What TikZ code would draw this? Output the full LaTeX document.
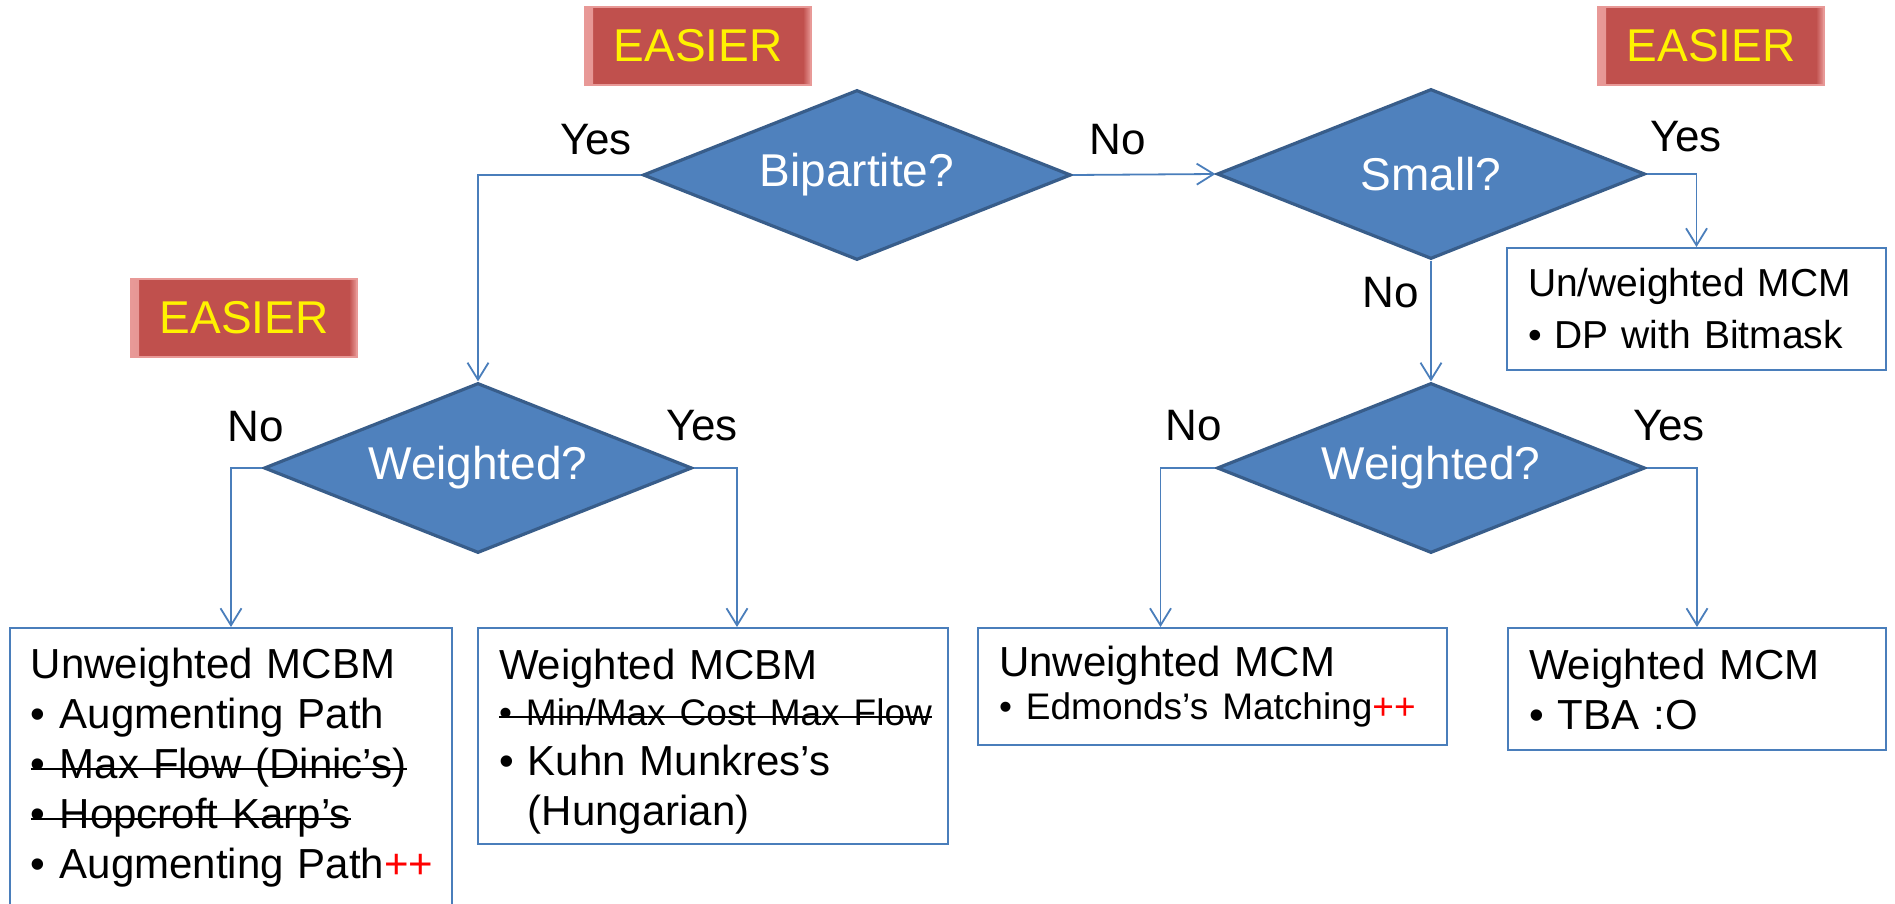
\documentclass[tikz,border=0pt]{standalone}
\usepackage{fontspec}
\setmainfont{Liberation Sans}
\usetikzlibrary{shapes.geometric,arrows.meta}

\definecolor{flowblue}{HTML}{4F81BD}
\definecolor{flowedge}{HTML}{385D8A}
\definecolor{linkblue}{HTML}{4A7EBB}
\definecolor{easyred}{HTML}{C0504D}
\definecolor{easyedge}{HTML}{E89997}

\newcommand{\struck}[1]{\leavevmode\setbox0=\hbox{#1}\rlap{\rule[0.2em]{\wd0}{1pt}}\box0}
\newcommand{\plusplus}{\textcolor{red}{++}}
\newcommand{\smalltxt}{\fontsize{18.5pt}{25pt}\selectfont}

\tikzset{
  decision/.style={diamond, shape aspect=2.5, fill=flowblue, draw=flowedge, line width=1.6pt,
    minimum width=214pt, minimum height=85pt, inner sep=0pt, text=white,
    font=\fontsize{23pt}{27pt}\selectfont},
  result/.style={draw=linkblue, line width=1pt, anchor=north west, align=left,
    inner xsep=10.5pt, inner ysep=10pt,
    font=\fontsize{21pt}{25pt}\selectfont},
  answer/.style={anchor=base, font=\fontsize{22pt}{26pt}\selectfont},
  easier/.style={fill=easyred, draw=easyedge, line width=0.8pt, text=yellow,
    minimum width=113pt, minimum height=39pt, font=\fontsize{23pt}{27pt}\selectfont,
    path picture={
      \fill[left color=easyedge, right color=easyred] (path picture bounding box.south west) rectangle ([xshift=4pt]path picture bounding box.north west);
      \fill[left color=easyred, right color=easyedge] ([xshift=-4pt]path picture bounding box.south east) rectangle (path picture bounding box.north east);
    }},
  link/.style={draw=linkblue, line width=0.9pt, -{Straight Barb[length=8.5pt,width=10.5pt]}},
}

\begin{document}
\begin{tikzpicture}[x=0.5pt,y=-0.5pt]
    \useasboundingbox (0,0) rectangle (1895,904);

    % questions
    \node[decision] (bip) at (857,175) {Bipartite?};
    \node[decision] (small) at (1431,174) {Small?};
    \node[decision] (wbip) at (478,468) {Weighted?};
    \node[decision] (wgen) at (1431,468) {Weighted?};

    \node[easier] (easy1) at (698,46) {EASIER};
    \node[easier] (easy2) at (1711,46) {EASIER};
    \node[easier] (easy3) at (244,318) {EASIER};

    % answers
    \node[result, text width=200pt] (umcbm) at (9,627) {Unweighted MCBM\\
        • Augmenting Path\\
        \struck{• Max Flow (Dinic’s)}\\
        \struck{• Hopcroft Karp’s}\\
        \mbox{• Augmenting Path\plusplus}};
    \node[result, text width=214pt, inner ysep=5pt] (wmcbm) at (477,627) {\rule{0pt}{20.5pt}Weighted MCBM\\[-2pt]
        {\smalltxt\struck{• Min/Max Cost Max Flow}}\\
        • Kuhn Munkres’s\\
        \phantom{• }(Hungarian)};
    \node[result, text width=213.5pt, inner ysep=9pt] (umcm) at (977,627) {Unweighted MCM\\[-3.5pt]
        {\smalltxt • Edmonds’s Matching\plusplus}};
    \node[result, text width=168pt, minimum height=61pt] (wmcm) at (1507,627) {Weighted MCM\\• TBA :O};
    \node[result, text width=168.5pt, minimum height=61pt, font=\fontsize{19.5pt}{26pt}\selectfont] (dp) at (1506,247) {Un/weighted MCM\\• DP with Bitmask};

    \node[answer] (yes1) at (596,155) {Yes};
    \node[answer] (no1) at (1118,155) {No};
    \node[answer] (yes2) at (1686,152) {Yes};
    \node[answer] (no2) at (1391,307) {No};
    \node[answer] (no3) at (256,441) {No};
    \node[answer] (yes3) at (702,440) {Yes};
    \node[answer] (no4) at (1194,440) {No};
    \node[answer] (yes4) at (1669,440) {Yes};

    \draw[link] (bip.west) -| (wbip.north);
    \draw[link] (bip.east) -- (small.west);
    \draw[link] (small.east) -| (dp.north);
    \draw[link] (small.south) -- (wgen.north);
    \draw[link] (wbip.west) -| (umcbm.north);
    \draw[link] (wbip.east) -| ([xshift=12pt]wmcbm.north); % not centred on the box
    \draw[link] (wgen.west) -| ([xshift=-26pt]umcm.north);
    \draw[link] (wgen.east) -| (wmcm.north);
\end{tikzpicture}
\end{document}
